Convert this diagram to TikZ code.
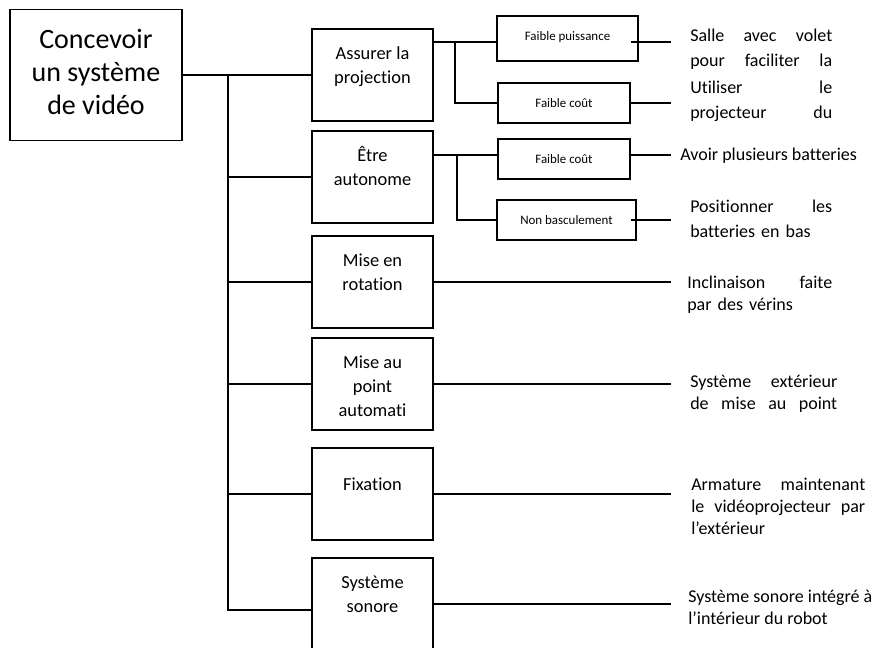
\documentclass[tikz,border=0pt]{standalone}
\usepackage{fontspec}
\setmainfont{Carlito}[Ligatures={TeX,NoCommon}]
\newcommand{\fstrut}{\rule{0pt}{18pt}}
\tikzset{lien/.style={line width=1.4pt}}
\tikzset{mainbox/.style={draw, line width=1.4pt, minimum width=129pt, minimum height=98.25pt, align=center, inner sep=0pt, font=\fontsize{21}{24.75}\selectfont}}
\tikzset{fctbox/.style={draw, line width=1.4pt, minimum width=90.75pt, minimum height=69pt, align=center, inner sep=0pt, font=\fontsize{13.8}{18}\selectfont}}
\tikzset{critbox/.style={draw, line width=1.4pt, minimum height=30pt, align=center, inner sep=0pt, font=\fontsize{9.7}{12}\selectfont}}
\tikzset{soltxt/.style={anchor=north west, inner sep=0pt, align=left, font=\fontsize{13.5}{18.75}\selectfont}}
\tikzset{soltxtb/.style={soltxt, font=\fontsize{13.5}{16.5}\selectfont}}
\begin{document}
\begin{tikzpicture}[x=0.75pt, y=-0.75pt]
\useasboundingbox (0,0) rectangle (884,648);
\node[mainbox] (main) at (96,75) {\strut Concevoir\\un système\\de vidéo\strut};
\node[fctbox] (proj) at (372.5,75) {\fstrut Assurer la\\projection\\\strut};
\node[fctbox] (auto) at (372.5,177) {\fstrut Être\\autonome\\\strut};
\node[fctbox] (rota) at (372.5,282) {\fstrut Mise en\\rotation\\\strut};
\node[fctbox] (point) at (372.5,384) {\fstrut Mise au\\point\\automati\strut};
\node[fctbox] (fixa) at (372.5,494) {\fstrut Fixation\\\strut};
\node[fctbox] (son) at (372.5,604) {\fstrut Système\\sonore\\\strut};
\node[critbox, minimum width=105.75pt, minimum height=33.75pt] (puis) at (567.5,38.5) {Faible puissance\rule[-3pt]{0pt}{1pt}};
\node[critbox, minimum width=99pt] (cout1) at (564,103) {Faible coût};
\node[critbox, minimum width=99pt] (cout2) at (564,159) {Faible coût};
\node[critbox, minimum width=104.25pt] (bascu) at (566.5,220) {Non basculement};
\node[soltxt, text width=106.5pt] (volet) at (690,24) {\strut Salle\hfill avec\hfill volet\\pour\hfill faciliter\hfill la};
\node[soltxt, text width=106.5pt] (projo) at (690,75.5) {\strut Utiliser\hfill le\\projecteur\hfill du};
\node[soltxt] (batt) at (680,142.5) {\strut Avoir plusieurs batteries};
\node[soltxt, text width=106.5pt] (bas) at (690,194.5) {\strut Positionner\hfill les\\batteries en bas};
\node[soltxtb, text width=108.75pt] (verin) at (687,273) {\strut Inclinaison\hfill faite\\par des vérins};
\node[soltxtb, text width=110.25pt] (ext) at (690,372) {\strut Système\hfill extérieur\\de\hfill mise\hfill au\hfill point};
\node[soltxtb, text width=130.5pt] (arma) at (691,475) {\strut Armature\hfill maintenant\\le\hfill vidéoprojecteur\hfill par\\l’extérieur};
\node[soltxtb] (sono) at (688,587) {\strut Système sonore intégré à\\l’intérieur du robot};
\coordinate (tronc) at (228,610);
\coordinate (sp) at (455,42);
\coordinate (sa) at (457,155);
\coordinate (bout) at (671,0);
\draw[lien] (main.east) -- (proj.west);
\draw[lien] (main.east -| tronc) -- (tronc) -- (tronc -| son.west);
\draw[lien] (auto.west -| tronc) -- (auto.west);
\draw[lien] (rota.west -| tronc) -- (rota.west);
\draw[lien] (point.west -| tronc) -- (point.west);
\draw[lien] (fixa.west -| tronc) -- (fixa.west);
\draw[lien] (proj.east |- sp) -- (sp -| puis.west);
\draw[lien] (sp) -- (sp |- cout1.west) -- (cout1.west);
\draw[lien] (auto.east |- sa) -- (sa -| cout2.west);
\draw[lien] (sa) -- (sa |- bascu.west) -- (bascu.west);
\draw[lien] (sp -| cout1.east) -- (sp -| bout);
\draw[lien] (cout1.east) -- (cout1.east -| bout);
\draw[lien] (sa -| cout2.east) -- (sa -| bout);
\draw[lien] (bascu.east -| cout2.east) -- (bascu.east -| bout);
\draw[lien] (rota.east) -- (rota.east -| bout);
\draw[lien] (point.east) -- (point.east -| bout);
\draw[lien] (fixa.east) -- (fixa.east -| bout);
\draw[lien] (son.east) -- (son.east -| bout);
\end{tikzpicture}
\end{document}
